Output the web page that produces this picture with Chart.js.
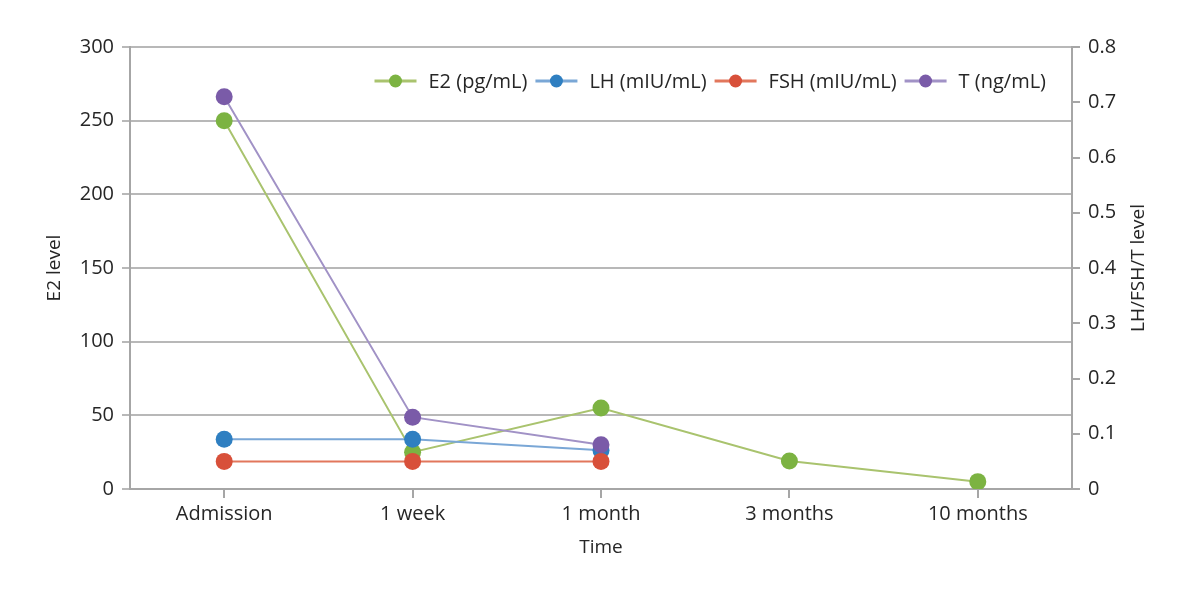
<!DOCTYPE html>
<html>
<head>
<meta charset="utf-8">
<script src="https://cdn.jsdelivr.net/npm/chart.js@4/dist/chart.umd.min.js"></script>
<style>
  html, body { margin: 0; padding: 0; background: #fff; }
  #wrap { width: 1200px; height: 601px; }
</style>
</head>
<body>
<div id="wrap"><canvas id="chart" width="1200" height="601"></canvas></div>
<script>
const categories = [`Admission`, `1 week`, `1 month`, `3 months`, `10 months`];
const e2Values = [250, 25, 55, 19, 5];
const lhValues = [0.09, 0.09, 0.07, null, null];
const fshValues = [0.05, 0.05, 0.05, null, null];
const tValues = [0.71, 0.13, 0.08, null, null];
const leftTicks = [0, 50, 100, 150, 200, 250, 300];
const rightTicks = [0, 0.1, 0.2, 0.3, 0.4, 0.5, 0.6, 0.7, 0.8];

const FONT = `"Open Sans", "Noto Sans", sans-serif`;
const TEXT = `#262626`;
const AXIS_GRAY = `#a6a6a6`;

const series = [
  {label: `E2 (pg/mL)`, data: e2Values, axis: `yLeft`, line: `#a9c36e`, point: `#7cb342`, order: 4},
  {label: `LH (mIU/mL)`, data: lhValues, axis: `yRight`, line: `#7aa7d6`, point: `#2f7fc1`, order: 3},
  {label: `FSH (mIU/mL)`, data: fshValues, axis: `yRight`, line: `#e2775c`, point: `#d8503a`, order: 2},
  {label: `T (ng/mL)`, data: tValues, axis: `yRight`, line: `#a192c6`, point: `#7a5ba8`, order: 1},
];

const datasets = series.map((s) => ({
  label: s.label,
  data: s.data,
  yAxisID: s.axis,
  borderColor: s.line,
  backgroundColor: s.point,
  borderWidth: 2,
  pointRadius: 8.5,
  pointHoverRadius: 8.5,
  pointBackgroundColor: s.point,
  pointBorderWidth: 0,
  tension: 0,
  spanGaps: false,
  order: s.order,
}));

// legend inside the plot, top right, plus both rotated axis titles
const extrasPlugin = {
  id: `extras`,
  afterDraw(chart) {
    const ctx = chart.ctx;
    const area = chart.chartArea;
    ctx.save();
    ctx.font = `20px ${FONT}`;
    ctx.textBaseline = `middle`;
    const lineW = 42;
    const gapAfterLine = 12;
    const gapAfterText = 8;
    const widths = series.map((s) => lineW + gapAfterLine + ctx.measureText(s.label).width);
    const total = widths.reduce((a, b) => a + b, 0) + gapAfterText * (series.length - 1);
    let x = 1046 - total;
    const y = 81;
    series.forEach((s, i) => {
      ctx.strokeStyle = s.line;
      ctx.lineWidth = 3;
      ctx.beginPath();
      ctx.moveTo(x, y);
      ctx.lineTo(x + lineW, y);
      ctx.stroke();
      ctx.fillStyle = s.point;
      ctx.beginPath();
      ctx.arc(x + lineW / 2, y, 6.5, 0, Math.PI * 2);
      ctx.fill();
      ctx.fillStyle = TEXT;
      ctx.textAlign = `left`;
      ctx.fillText(s.label, x + lineW + gapAfterLine, y + 1);
      x += widths[i] + gapAfterText;
    });

    ctx.font = `19px ${FONT}`;
    ctx.fillStyle = TEXT;
    ctx.textAlign = `center`;
    const midY = (area.top + area.bottom) / 2;
    ctx.translate(55, midY);
    ctx.rotate(-Math.PI / 2);
    ctx.fillText(`E2 level`, 0, 0);
    ctx.rotate(Math.PI / 2);
    ctx.translate(-55, -midY);
    ctx.translate(1139, midY);
    ctx.rotate(-Math.PI / 2);
    ctx.fillText(`LH/FSH/T level`, 0, 0);
    ctx.restore();
  },
};

new Chart(document.getElementById(`chart`), {
  type: `line`,
  data: {labels: categories, datasets},
  plugins: [extrasPlugin],
  options: {
    responsive: false,
    animation: false,
    layout: {padding: {top: 47, left: 0, right: 0, bottom: 42}},
    plugins: {legend: {display: false}, tooltip: {enabled: false}},
    scales: {
      x: {
        type: `category`,
        offset: true,
        grid: {drawOnChartArea: false, color: AXIS_GRAY, tickLength: 9, lineWidth: 2},
        border: {color: AXIS_GRAY, width: 2},
        ticks: {color: TEXT, font: {family: FONT, size: 20}, padding: 4, maxRotation: 0},
        title: {display: true, text: `Time`, color: TEXT, font: {family: FONT, size: 19}, padding: {top: 0, bottom: 0}},
        afterFit(scale) { scale.height = 70; },
      },
      yLeft: {
        position: `left`,
        min: 0,
        max: 300,
        afterBuildTicks(scale) { scale.ticks = leftTicks.map((v) => ({value: v})); },
        grid: {color: `#b8b8b8`, lineWidth: 2, tickLength: 8},
        border: {color: AXIS_GRAY, width: 2},
        ticks: {color: TEXT, font: {family: FONT, size: 20}, padding: 8},
        afterFit(scale) { scale.width = 130; },
      },
      yRight: {
        position: `right`,
        min: 0,
        max: 0.8,
        afterBuildTicks(scale) { scale.ticks = rightTicks.map((v) => ({value: v})); },
        grid: {drawOnChartArea: false, color: AXIS_GRAY, lineWidth: 2, tickLength: 8},
        border: {color: AXIS_GRAY, width: 2},
        ticks: {color: TEXT, font: {family: FONT, size: 20}, padding: 8},
        afterFit(scale) { scale.width = 128; },
      },
    },
  },
});
</script>
</body>
</html>
